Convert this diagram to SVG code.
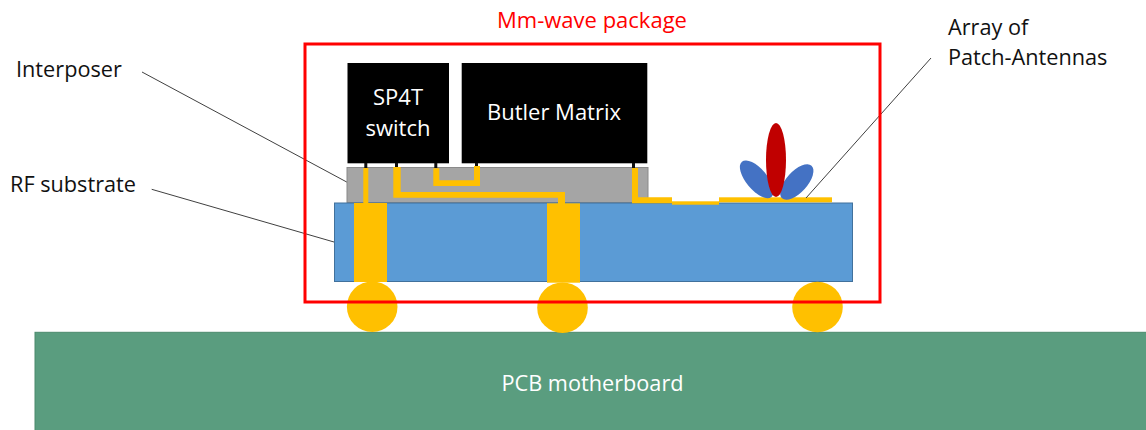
<svg xmlns="http://www.w3.org/2000/svg" width="1146" height="430" viewBox="0 0 1146 430">
<style>
text{font-family:"Open Sans","Noto Sans","Liberation Sans",sans-serif;font-size:22px}
.g{fill:#ffc000}
.lead{stroke:#404040;stroke-width:1;fill:none}
.chip{fill:#000}
.lbl{fill:#fff}
.dark{fill:#111;font-size:21.700px}
.pin{fill:#111}
</style>
<rect width="1146" height="430" fill="#fff"/>
<g id="pcb"><rect x="35" y="332.300" width="1112" height="99" fill="#5a9d7f" stroke="#4a8a6c"/><text class="lbl" x="592.500" y="391" text-anchor="middle" style="font-size:21.700px">PCB motherboard</text></g>
<g id="interposer"><rect x="347" y="167.500" width="301" height="35" fill="#a5a5a5" stroke="#8a8a8a"/></g>
<g id="rf-substrate"><rect x="334.500" y="203" width="518" height="78.500" fill="#5b9bd5" stroke="#41719c"/></g>
<g id="solder-balls">
<circle cx="372.200" cy="306.700" r="25.300" class="g"/><circle cx="562.500" cy="307.700" r="25.300" class="g"/><circle cx="817.500" cy="307" r="25.300" class="g"/>
</g>
<g id="vias"><rect x="354" y="203" width="33" height="79" class="g"/><rect x="547" y="203.300" width="33" height="79.400" class="g"/></g>
<g id="chips">
<g id="sp4t"><rect x="347.500" y="63" width="101.500" height="100.300" class="chip"/><text class="lbl" x="398" y="105" text-anchor="middle">SP4T</text><text class="lbl" x="398" y="136" text-anchor="middle">switch</text></g>
<g id="butler"><rect x="461.700" y="63" width="185.600" height="100.300" class="chip"/><text class="lbl" x="554" y="120" text-anchor="middle">Butler Matrix</text></g>
<rect x="364.300" y="163" width="3" height="5" class="pin"/><rect x="395" y="163" width="3" height="5" class="pin"/><rect x="434.300" y="163" width="3" height="5" class="pin"/><rect x="475" y="163" width="3" height="5" class="pin"/><rect x="632" y="163" width="3" height="5" class="pin"/>
</g>
<g id="traces">
<rect x="363.300" y="168" width="5" height="35" class="g"/>
<path class="g" d="M393.300 167H400.700V192H565V204H558V197.700H393.300Z"/>
<path class="g" d="M433.300 168.300H439.300V180.300H474V166H480V186H433.300Z"/>
<path class="g" d="M632 168H638V197.300H672V203.300H632Z"/>
<rect x="672" y="201.300" width="47" height="3.400" class="g"/>
<rect x="719" y="197.300" width="113" height="5" class="g"/>
</g>
<g id="antennas">
<ellipse cx="756.700" cy="179.300" rx="10.500" ry="23" fill="#4472c4" transform="rotate(-40 756.700 179.300)"/>
<ellipse cx="796.800" cy="182" rx="10.500" ry="22" fill="#4472c4" transform="rotate(42 796.800 182)"/>
<ellipse cx="776" cy="160" rx="10" ry="37" fill="#c00000"/>
</g>
<g id="connectors">
<path class="lead" d="M142 72L346.700 182"/><path class="lead" d="M151.700 189.300L334 242"/><path class="lead" d="M806 198L931 58"/>
</g>
<g id="package"><rect x="305" y="44" width="575" height="258" fill="none" stroke="#f00" stroke-width="3"/><text x="592" y="28" text-anchor="middle" fill="#f00">Mm-wave package</text></g>
<g id="labels">
<text class="dark" x="16" y="77">Interposer</text><text class="dark" x="10" y="191.500">RF substrate</text><text class="dark" x="948" y="35">Array of</text><text class="dark" x="948" y="65">Patch-Antennas</text>
</g>
</svg>
